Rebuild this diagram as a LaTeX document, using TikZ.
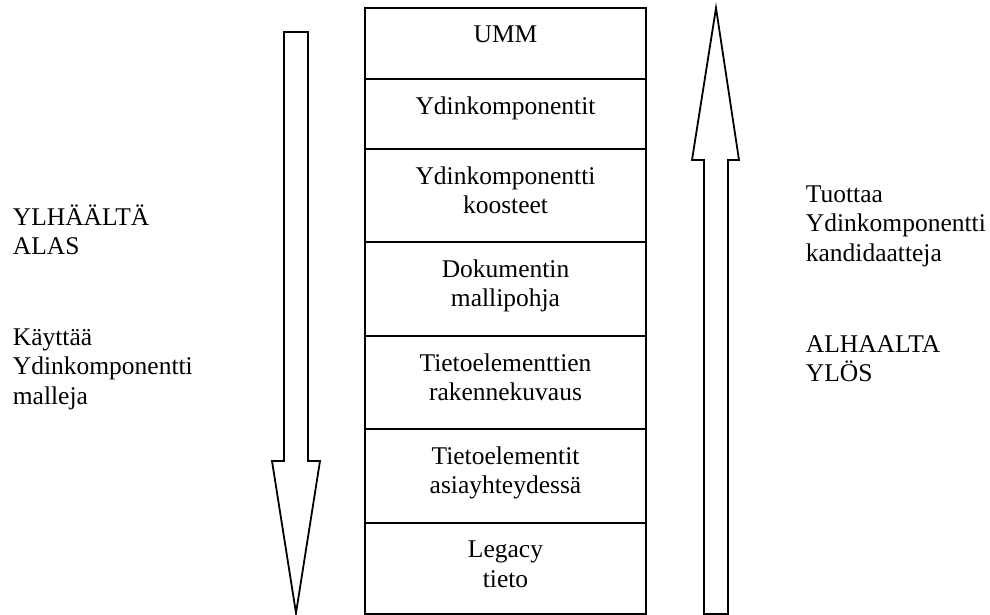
\documentclass[tikz,border=0pt]{standalone}
\usepackage{fontspec}
\setmainfont{Liberation Serif}
\begin{document}
\begin{tikzpicture}[x=1pt,y=-1pt,
  line width=1.8pt, line join=miter,
  layer/.style={draw, rectangle, inner sep=0pt, minimum width=281pt},
  label/.style={anchor=base, align=center, inner sep=0pt,
    font=\fontsize{25.5}{29.5}\selectfont},
  side/.style={anchor=base west, align=left, inner sep=0pt,
    font=\fontsize{25.5}{29.5}\selectfont},
  bigarrow/.style={draw, fill=white}]
\useasboundingbox (0,0) rectangle (990,615);

% layer stack: (top, bottom) of each layer
\foreach \name/\t/\b in {umm/8/79, ydin/79/149, koost/149/242, doku/242/336,
                         rakenne/336/429, asia/429/523, legacy/523/614}{
  \node[layer, minimum height={\b-\t}] (\name) at (505.5,{(\t+\b)/2}) {};
}

% labels are placed by the baseline of their last line
\node[label] (tumm)     at (505.5,43)  {UMM};
\node[label] (tydin)    at (505.5,114) {Ydinkomponentit};
\node[label] (tkoost)   at (505.5,213.5) {Ydinkomponentti\\koosteet};
\node[label] (tdoku)    at (505.5,306.5) {Dokumentin\\mallipohja};
\node[label] (trakenne) at (505.5,400.5) {Tietoelementtien\\rakennekuvaus};
\node[label] (tasia)    at (505.5,493.5) {Tietoelementit\\asiayhteydessä};
\node[label] (tlegacy)  at (505.5,587) {Legacy\\tieto};

% downward block arrow
\draw[bigarrow] (284,32) -- (308,32) -- (308,461) -- (320,461) -- (296,613)
  -- (272,461) -- (284,461) -- cycle;
% upward block arrow
\draw[bigarrow] (704,614) -- (728,614) -- (728,160) -- (739,160) -- (716,8)
  -- (692,160) -- (704,160) -- cycle;

\node[side] (topdown)  at (12,254.5) {YLHÄÄLTÄ\\ALAS};
\node[side] (uses)     at (12,404)   {Käyttää\\Ydinkomponentti\\malleja};
\node[side] (yields)   at (805,261)  {Tuottaa\\Ydinkomponentti\\kandidaatteja};
\node[side] (bottomup) at (805,381.5) {ALHAALTA\\YLÖS};
\end{tikzpicture}
\end{document}
